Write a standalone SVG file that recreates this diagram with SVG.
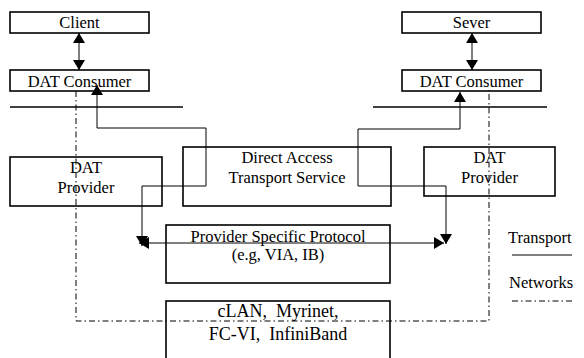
<svg xmlns="http://www.w3.org/2000/svg" width="584" height="358" viewBox="0 0 584 358">
<style>
.box{fill:#fff;stroke:#000;stroke-width:1.6}
.t{font-family:"Liberation Serif","Times New Roman",serif;font-size:16.5px;fill:#000;text-anchor:middle}
.tl{font-family:"Liberation Serif","Times New Roman",serif;font-size:16.5px;fill:#000}
.big{font-size:18px}
.c{fill:none;stroke:#000;stroke-width:1}
.sep{fill:none;stroke:#000;stroke-width:1.3}
.dd{fill:none;stroke:#000;stroke-width:1;stroke-dasharray:6 3 1.5 3}
</style>
<defs>
<marker id="ah" viewBox="0 0 10 12" refX="10" refY="6" markerWidth="10" markerHeight="12" markerUnits="userSpaceOnUse" orient="auto-start-reverse">
<path d="M0,0 L10,6 L0,12 Z" fill="#000"/>
</marker>
</defs>
<g id="connectors">
<line class="sep" x1="10" y1="107" x2="183" y2="107"/>
<line class="sep" x1="373" y1="107" x2="547" y2="107"/>
<path class="dd" d="M76,91 V321 H489 V90"/>
<line class="c" x1="79" y1="33" x2="79" y2="70" marker-start="url(#ah)" marker-end="url(#ah)"/>
<line class="c" x1="472" y1="33" x2="472" y2="70" marker-start="url(#ah)" marker-end="url(#ah)"/>
<path class="c" d="M142,246 V186 H206 V128 H97 V85" marker-start="url(#ah)" marker-end="url(#ah)"/>
<path class="c" d="M446,244 V186 H358 V129 H460 V92" marker-start="url(#ah)" marker-end="url(#ah)"/>
<line class="c" x1="139" y1="243" x2="444" y2="243" marker-start="url(#ah)" marker-end="url(#ah)"/>
</g>
<g id="client"><rect class="box" x="10" y="12" width="139" height="21"/><text class="t" x="79.5" y="28">Client</text></g>
<g id="consumer-left"><rect class="box" x="10" y="70" width="139" height="21" fill-opacity="0"/><text class="t" x="79.5" y="87">DAT Consumer</text></g>
<g id="sever"><rect class="box" x="402" y="12" width="139" height="21"/><text class="t" x="471.5" y="28">Sever</text></g>
<g id="consumer-right"><rect class="box" x="402" y="70" width="139" height="21" style="fill:none"/><text class="t" x="471.5" y="87">DAT Consumer</text></g>
<g id="provider-left"><rect class="box" x="10" y="157" width="152" height="49" style="fill:none"/><text class="t" x="86" y="173">DAT</text><text class="t" x="86" y="193">Provider</text></g>
<g id="dats"><rect class="box" x="183" y="147" width="208" height="59" style="fill:none"/><text class="t" x="287" y="163">Direct Access</text><text class="t" x="287" y="183">Transport Service</text></g>
<g id="provider-right"><rect class="box" x="424" y="147" width="131" height="49" style="fill:none"/><text class="t" x="489.5" y="163">DAT</text><text class="t" x="489.5" y="183">Provider</text></g>
<g id="psp"><rect class="box" x="166" y="225" width="224" height="58" style="fill:none"/><text class="t" x="278" y="242" xml:space="preserve">Provider Specific Protocol</text><text class="t" x="278" y="260">(e.g, VIA, IB)</text></g>
<g id="networks"><rect class="box" x="166" y="301" width="224" height="70" style="fill:none"/><text class="t big" x="278" y="317" xml:space="preserve">cLAN,  Myrinet,</text><text class="t big" x="278" y="340" xml:space="preserve">FC-VI,  InfiniBand</text></g>
<g id="legend">
<text class="tl" x="508" y="243">Transport</text>
<line class="c" x1="512" y1="255" x2="572" y2="255"/>
<text class="tl" x="509" y="288">Networks</text>
<line class="dd" x1="512" y1="301" x2="572" y2="301"/>
</g>
</svg>
